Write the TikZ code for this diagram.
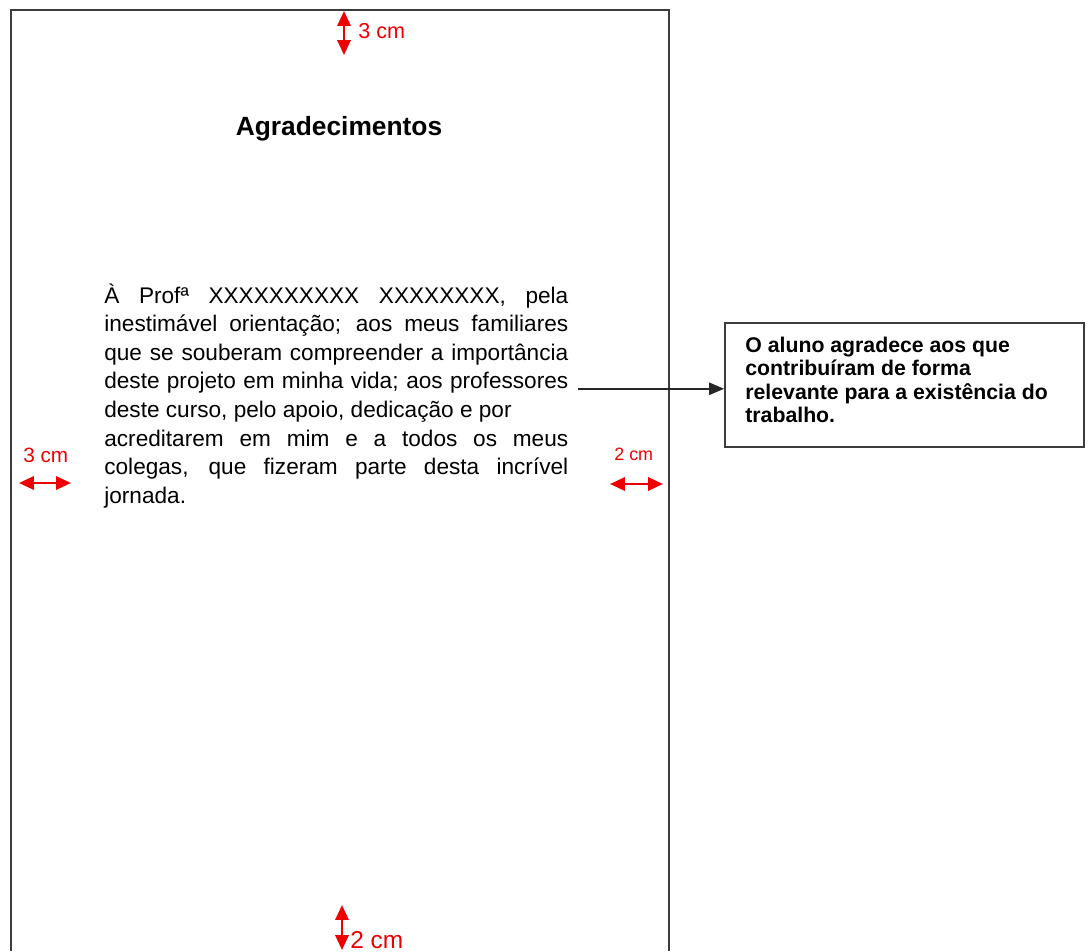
\documentclass[tikz,border=0pt]{standalone}
\usepackage{fontspec}
\setmainfont{Liberation Sans}
\usetikzlibrary{arrows.meta}
\definecolor{dimred}{RGB}{236,0,0}
\definecolor{pageline}{RGB}{60,60,60}
\hbadness=10000
\begin{document}
\begin{tikzpicture}[x=0.02cm,y=-0.02cm,
  pageedge/.style={draw=pageline,line width=1.1pt},
  dimarrow/.style={draw=dimred,line width=1.5pt,
    {Triangle[length=8.5pt,width=7.5pt]}-{Triangle[length=8.5pt,width=7.5pt]}},
  dimlabel/.style={text=dimred,anchor=base west,inner sep=0pt},
  bodyline/.style={anchor=base west,inner sep=0pt,
    font=\fontsize{12.87}{16.2}\selectfont},
  notebox/.style={draw=pageline,line width=1.1pt,minimum width=7.18cm,
    minimum height=2.48cm,inner sep=0pt},
  pointer/.style={draw=black!85,line width=0.9pt,-{Triangle[length=8.5pt,width=7pt]}}]
\useasboundingbox (0,0) rectangle (1091,951);

% page outline (open at the bottom)
\coordinate (pbl) at (11,951);
\coordinate (ptl) at (11,10);
\coordinate (ptr) at (669,10);
\coordinate (pbr) at (669,951);
\draw[pageedge] (pbl) -- (ptl) -- (ptr) -- (pbr);

% heading
\node[anchor=base,inner sep=0pt,font=\bfseries\fontsize{15}{18}\selectfont]
  (title) at (339,135) {Agradecimentos};

% acknowledgement paragraph, justified line by line
\node[bodyline] (l1) at (104,303.0) {\makebox[9.28cm][s]{À Prof\textordfeminine{} XXXXXXXXXX XXXXXXXX, pela}};
\node[bodyline] (l2) at (104,331.6) {\makebox[9.28cm][s]{inestimável orientação; aos meus familiares}};
\node[bodyline] (l3) at (104,360.2) {\makebox[9.28cm][s]{que se souberam compreender a importância}};
\node[bodyline] (l4) at (104,388.8) {\makebox[9.28cm][s]{deste projeto em minha vida; aos professores}};
\node[bodyline] (l5) at (104,417.4) {deste curso, pelo apoio, dedicação e por};
\node[bodyline] (l6) at (104,446.0) {\makebox[9.28cm][s]{acreditarem em mim e a todos os meus}};
\node[bodyline] (l7) at (104,474.6) {\makebox[9.28cm][s]{colegas, que fizeram parte desta incrível}};
\node[bodyline] (l8) at (104,503.2) {jornada.};

% side note
\node[notebox] (note) at (904.5,385) {};
\node[anchor=north west,inner sep=0pt,align=left,
  font=\bfseries\fontsize{12.1}{13.2}\selectfont] (notetext) at (745,337)
  {O aluno agradece aos que\\contribuíram de forma\\relevante para a existência do\\trabalho.};

\coordinate (arrstart) at ([xshift=0.18cm]l4.base east);
\draw[pointer] (arrstart) -- (arrstart -| note.west);

% margin dimensions
\coordinate (dt1) at (344,11);
\coordinate (dt2) at (344,55);
\draw[dimarrow] (dt1) -- (dt2);
\node[dimlabel,font=\fontsize{12.3}{14}\selectfont] (dtl) at (358,38) {3 cm};

\coordinate (dl1) at (19,483);
\coordinate (dl2) at (71,483);
\draw[dimarrow] (dl1) -- (dl2);
\node[dimlabel,font=\fontsize{11.8}{14}\selectfont] (dll) at (23,462) {3 cm};

\coordinate (dr1) at (610,484);
\coordinate (dr2) at (663,484);
\draw[dimarrow] (dr1) -- (dr2);
\node[dimlabel,font=\fontsize{10.2}{12}\selectfont] (drl) at (614,460) {2 cm};

\coordinate (db1) at (342,905);
\coordinate (db2) at (342,950);
\draw[dimarrow] (db1) -- (db2);
\node[dimlabel,font=\fontsize{13.9}{16}\selectfont] (dbl) at (350,948) {2 cm};
\end{tikzpicture}
\end{document}
